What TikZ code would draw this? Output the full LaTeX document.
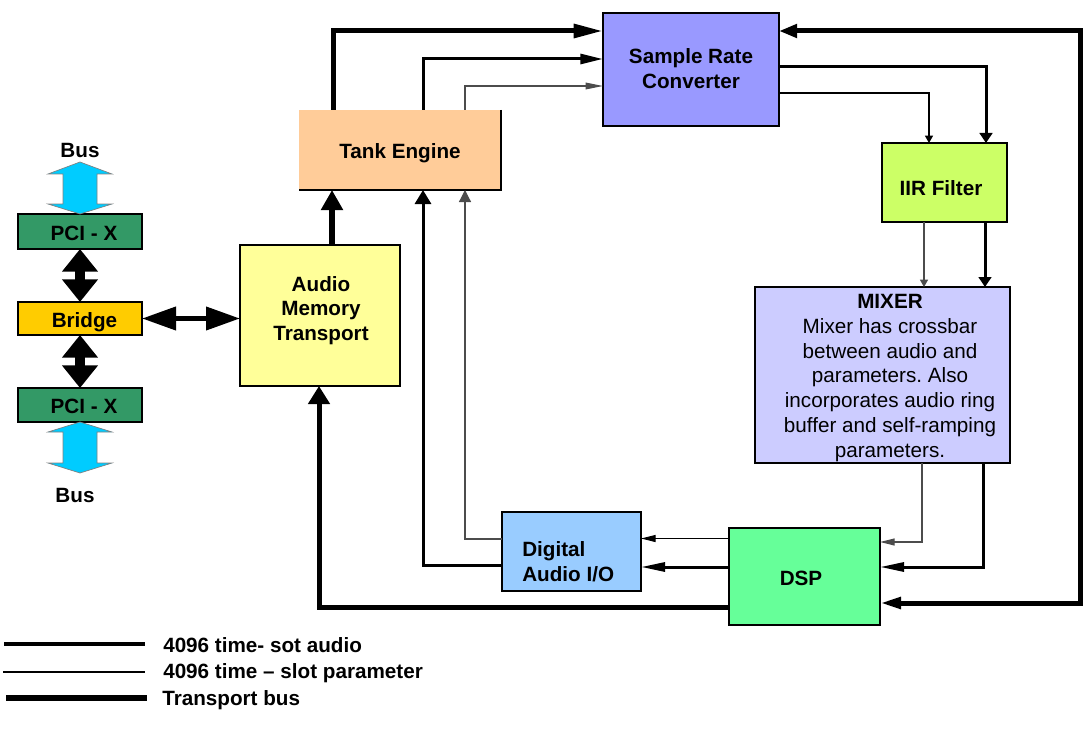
\documentclass[tikz,border=0pt]{standalone}
\usepackage{fontspec}
\setmainfont{Liberation Sans}
\usetikzlibrary{arrows.meta}
\definecolor{pcigreen}{HTML}{339966}
\definecolor{bridgeyel}{HTML}{FFCC00}
\definecolor{buscyan}{HTML}{00CCFF}
\definecolor{amtyel}{HTML}{FFFF99}
\definecolor{tankpeach}{HTML}{FFCC99}
\definecolor{srcblue}{HTML}{9999FF}
\definecolor{iirgreen}{HTML}{CCFF66}
\definecolor{mixlav}{HTML}{CCCCFF}
\definecolor{daioblue}{HTML}{99CCFF}
\definecolor{dspgreen}{HTML}{66FF99}
\frenchspacing
\begin{document}
\begin{tikzpicture}[x=0.75pt,y=-0.75pt,
  box/.style={draw=black, line width=1.1pt, inner sep=0pt, outer sep=0pt},
  txt/.style={font=\fontsize{15.5}{18.6}\selectfont\bfseries, align=center, inner sep=0pt},
  rtxt/.style={font=\fontsize{15.5}{18.6}\selectfont, align=center, inner sep=0pt},
  tbus/.style={line width=3.75pt, -{Triangle[length=12pt,width=10pt]}},
  aud/.style={line width=2.25pt, -{Triangle[length=18pt,width=6.75pt]}},
  par/.style={line width=0.9pt, draw=black!70, -{Triangle[length=11pt,width=5.25pt]}},
  audv/.style={line width=2.25pt, -{Triangle[length=7.5pt,width=9.5pt]}},
  parv/.style={line width=0.9pt, draw=black!70, -{Triangle[length=5.5pt,width=6pt]}},
  bigtip/.style={line width=7.5pt, {Triangle[length=17pt,width=26pt]}-{Triangle[length=17pt,width=26pt]}},
  cyanarrow/.style={fill=buscyan, draw=black!50, line width=0.5pt}
]
\useasboundingbox (0,0) rectangle (1083,749);

% ---- boxes ----
\node[box, fill=pcigreen, minimum width=93pt, minimum height=26.25pt] (pci1) at (80,231.5) {};
\node[box, fill=bridgeyel, minimum width=93pt, minimum height=24.75pt] (bridge) at (80,318.5) {};
\node[box, fill=pcigreen, minimum width=93pt, minimum height=25.5pt] (pci2) at (80,405) {};
\node[box, fill=amtyel, minimum width=120pt, minimum height=105.75pt] (amt) at (320,315.5) {};
\node[fill=tankpeach, inner sep=0pt, outer sep=0pt, minimum width=151.5pt, minimum height=60pt] (tank) at (400,150) {};
\draw[line width=1.1pt] (tank.north east) -- (tank.south east) -- (tank.south west);
\node[box, fill=srcblue, minimum width=132pt, minimum height=84.75pt] (src) at (691,69.5) {};
\node[box, fill=iirgreen, minimum width=93.75pt, minimum height=59.25pt] (iir) at (944.5,182.5) {};
\node[box, fill=mixlav, minimum width=191.25pt, minimum height=132pt] (mixer) at (882.5,375) {};
\node[box, fill=dspgreen, minimum width=113.25pt, minimum height=72.75pt] (dsp) at (804.5,576.5) {};
\node[box, fill=daioblue, minimum width=104.25pt, minimum height=59.25pt] (daio) at (571.5,551.5) {};

% ---- texts ----
\node[txt] (pci1t) at (84,233) {PCI - X};
\node[txt] (bridget) at (84.5,322.5) {Bridge};
\node[txt] (pci2t) at (84,406.5) {PCI - X};
\node[txt] (bus1) at (80,150) {Bus};
\node[txt] (bus2) at (75,495) {Bus};
\node[txt] (amtt) at (321,310.5) {Audio\\Memory\\Transport};
\node[txt] (tankt) at (400,153) {Tank Engine};
\node[txt] (srct) at (691,68.5) {Sample Rate\\Converter};
\node[txt] (iirt) at (941,188) {IIR Filter};
\node[rtxt] (mixert) at (890,378) {\textbf{MIXER}\\Mixer has crossbar\\between audio and\\parameters. Also\\incorporates audio ring\\buffer and self-ramping\\parameters.};
\node[txt] (dspt) at (801,578) {DSP};
\node[txt, align=left, anchor=west] (daiot) at (522,562) {Digital\\Audio I/O};

% ---- bus arrows (left) ----
\draw[cyanarrow] (80,162) -- (112,174) -- (97,174) -- (97,204) -- (112,204) -- (80,214)
  -- (48,204) -- (63,204) -- (63,174) -- (48,174) -- cycle;
\draw[cyanarrow] (80,422) -- (112,432) -- (97,432) -- (97,463) -- (112,463) -- (80,473)
  -- (48,463) -- (63,463) -- (63,432) -- (48,432) -- cycle;
\draw[bigtip] (pci1.south) -- (bridge.north);
\draw[bigtip] (bridge.south) -- (pci2.north);
\draw[line width=3.75pt, {Triangle[length=25.5pt,width=17pt]}-{Triangle[length=25.5pt,width=17pt]}]
  (bridge.east) -- (bridge.east -| amt.west);

% ---- transport bus ----
\draw[tbus, line width=4.5pt, -{Triangle[length=15pt,width=15.75pt]}] (332,0 |- amt.north) -- (332,0 |- tank.south);
\draw[tbus, -{Triangle[length=22pt,width=10pt]}] (333,0 |- tank.north) |- (src.west |- 0,31);
\coordinate (rtop) at (1080,31);
\coordinate (rbot) at (1080,603);
\draw[tbus, {Triangle[length=13.5pt,width=9.75pt]}-{Triangle[length=15.75pt,width=8.25pt]}]
  (src.east |- rtop) -- (rtop) -- (rbot) -- (dsp.east |- rbot);
\draw[tbus, -{Triangle[length=13.5pt,width=15.75pt]}] (dsp.west |- 0,607) -| (319,0 |- amt.south);

% ---- audio ----
\draw[aud, -{Triangle[length=17pt,width=7.5pt]}] (423,0 |- tank.north) |- (src.west |- 0,59);
\draw[audv] (src.east |- 0,67) -| (986,0 |- iir.north);
\draw[audv] (985,0 |- iir.south) -- (985,0 |- mixer.north);
\draw[aud] (983,0 |- mixer.south) |- (dsp.east |- 0,567);
\draw[aud] (dsp.west |- 0,567) -- (daio.east |- 0,567);
\draw[aud, -{Triangle[length=10.5pt,width=12pt]}] (daio.west |- 0,565) -| (423,0 |- tank.south);

% ---- parameter ----
\draw[par, -{Triangle[length=13pt,width=5pt]}] (465,0 |- tank.north) |- (src.west |- 0,86);
\draw[parv, draw=black] (src.east |- 0,93) -| (929,0 |- iir.north);
\draw[parv] (924,0 |- iir.south) -- (924,0 |- mixer.north);
\draw[par] (922,0 |- mixer.south) |- (dsp.east |- 0,542);
\draw[par, draw=black] (dsp.west |- 0,538.5) -- (daio.east |- 0,538.5);
\draw[parv, -{Triangle[length=9pt,width=9pt]}] (daio.west |- 0,539) -| (465,0 |- tank.south);

% ---- legend ----
\coordinate (l1a) at (4,644); \coordinate (l1b) at (145,644);
\coordinate (l2a) at (3,672); \coordinate (l2b) at (145,672);
\coordinate (l3a) at (6,698); \coordinate (l3b) at (147,698);
\draw[line width=2.4pt] (l1a) -- (l1b);
\draw[line width=1.2pt] (l2a) -- (l2b);
\draw[line width=4pt] (l3a) -- (l3b);
\node[txt, anchor=west] (leg1) at (163,645) {4096 time- sot audio};
\node[txt, anchor=west] (leg2) at (163,673) {4096 time – slot parameter};
\node[txt, anchor=west] (leg3) at (162,700) {Transport bus};
\end{tikzpicture}
\end{document}
